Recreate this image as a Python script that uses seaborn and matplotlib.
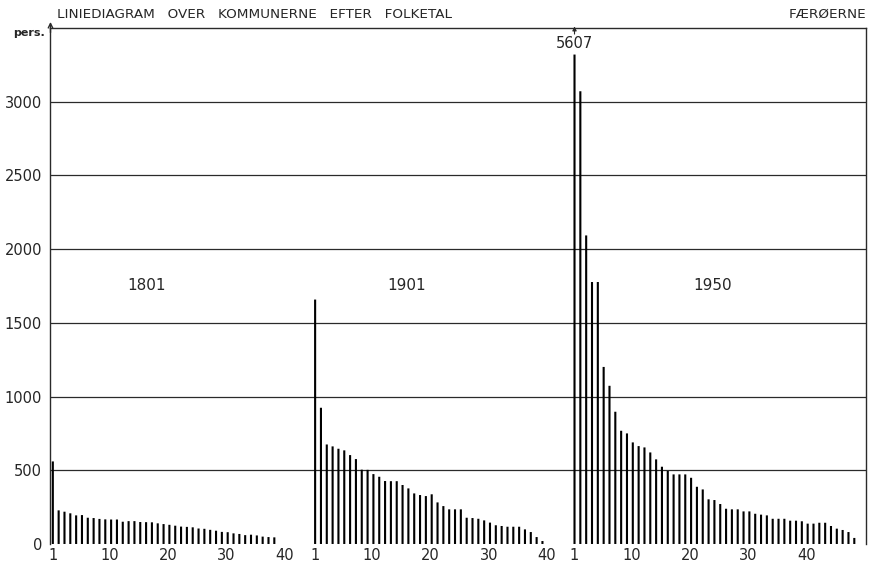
import numpy as np
import pandas as pd
import matplotlib
matplotlib.use('Agg')
import matplotlib.pyplot as plt
from matplotlib.ticker import MultipleLocator, FixedLocator
import seaborn as sns

# population per kommune, ranked
years = ['1801', '1901', '1950']
pop_1801 = [560, 228, 219, 208, 194, 196, 178, 176, 170, 167,
            166, 166, 151, 155, 155, 149, 148, 147, 140, 135,
            130, 124, 118, 116, 113, 105, 103, 96, 90, 82,
            80, 72, 68, 60, 63, 58, 50, 47, 45]
pop_1901 = [1658, 924, 675, 662, 646, 635, 603, 576, 504, 503,
            474, 456, 427, 426, 426, 400, 377, 343, 332, 325,
            337, 282, 257, 235, 235, 235, 178, 176, 171, 160,
            145, 127, 122, 117, 117, 117, 99, 81, 47, 20]
pop_1950 = [5607, 3071, 2093, 1777, 1777, 1201, 1073, 897, 768, 750,
            689, 664, 655, 621, 574, 524, 495, 472, 472, 472,
            449, 388, 370, 303, 298, 271, 239, 235, 235, 221,
            221, 205, 199, 194, 171, 171, 171, 158, 158, 154,
            138, 138, 144, 144, 122, 104, 95, 81, 41]
rank_labels = [1, 10, 20, 30, 40]

# layout of the three blocks along one axis
offsets = [0, 45, 89.5]
cap = 3320

frames = []
for year, vals, off in zip(years, [pop_1801, pop_1901, pop_1950], offsets):
    n = np.arange(1, len(vals) + 1)
    frames.append(pd.DataFrame({'year': year, 'rank': n, 'pers': vals, 'pos': off + n - 1}))
df = pd.concat(frames, ignore_index=True)
df['shown'] = df['pers'].clip(upper=cap)

sns.set_style('white')
plt.rcParams['font.family'] = ['DejaVu Sans']
line_col = '#2a2a2a'

fig = plt.figure(figsize=(8.69, 5.67), dpi=100)
ax = fig.add_axes([0.0581, 0.0406, 0.9384, 0.91])

sns.barplot(data=df, x='pos', y='shown', native_scale=True, width=0.36,
            color='black', saturation=1, errorbar=None, linewidth=0, ax=ax)
for bar in ax.patches:
    bar.set_snap(False)

ax.set_xlim(-0.4, 139.5)
ax.set_ylim(0, 3500)
ax.set_xlabel('')
ax.set_ylabel('')

# y axis
ax.set_yticks(range(0, 3001, 500))
ax.yaxis.set_minor_locator(MultipleLocator(100))
ax.yaxis.grid(True, color=line_col, lw=0.9)
ax.get_ygridlines()[0].set_visible(False)
ax.tick_params(axis='y', which='major', direction='out', length=5, width=0.8,
               labelsize=10.5, pad=1, color=line_col)
ax.tick_params(axis='y', which='minor', direction='out', length=3, width=0.6, color=line_col)

# x axis: rank numbers under each block
xt, xl, xm = [], [], []
for vals, off in zip([pop_1801, pop_1901, pop_1950], offsets):
    for r in rank_labels:
        xt.append(off + r - 1 + (0.8 if r > 1 else 0))
        xl.append(str(r))
    for r in range(5, len(vals) + 1, 10):
        xm.append(off + r - 1)
ax.set_xticks(xt)
ax.set_xticklabels(xl)
ax.xaxis.set_minor_locator(FixedLocator(xm))
ax.tick_params(axis='x', which='major', length=0, labelsize=10.5, pad=3)
ax.tick_params(axis='x', which='minor', direction='out', length=2.5, width=0.8, color=line_col)

for side in ['left', 'top', 'right']:
    ax.spines[side].set_color(line_col)
    ax.spines[side].set_linewidth(1)
ax.spines['bottom'].set_visible(False)

# year labels
for year, off, dx in zip(years, offsets, [16.1, 15.7, 23.7]):
    ax.text(off + dx, 1750, year, ha='center', va='center', fontsize=11)

# off-scale bar
x_big = offsets[2]
ax.text(x_big, 3394, '5607', ha='center', va='center', fontsize=10.5)
ax.annotate('', xy=(x_big, 3530), xytext=(x_big, 3440),
            arrowprops=dict(arrowstyle='-|>', lw=0.8, color=line_col, mutation_scale=6),
            annotation_clip=False)
ax.annotate('', xy=(-0.4, 3560), xytext=(-0.4, 3450),
            arrowprops=dict(arrowstyle='->', lw=1, color=line_col, mutation_scale=8),
            annotation_clip=False)

fig.text(57 / 869, 1 - 14 / 567, 'LINIEDIAGRAM   OVER   KOMMUNERNE   EFTER   FOLKETAL',
         fontsize=9.7, ha='left', va='center')
fig.text(866 / 869, 1 - 14 / 567, 'FÆRØERNE', fontsize=9.7, ha='right', va='center')
fig.text(45 / 869, 1 - 33 / 567, 'pers.', fontsize=8, weight='bold', ha='right', va='center')

fig.savefig('out.png', dpi=100)
